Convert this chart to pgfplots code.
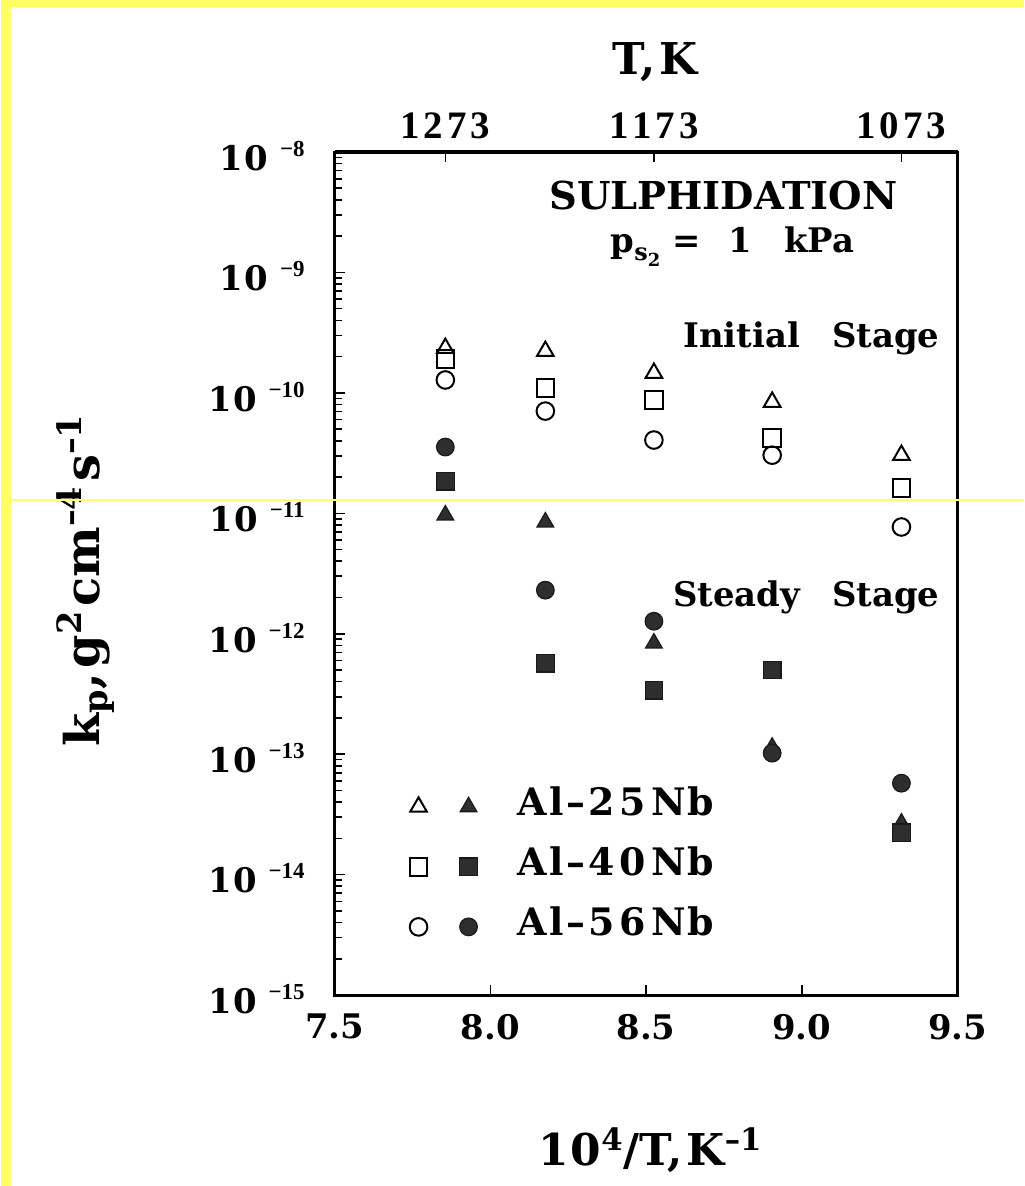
\documentclass[border=0pt]{standalone}
\usepackage{pgfplots}
\pgfplotsset{compat=1.18}
\usepackage{fontspec}
\setmainfont{DejaVu Serif}
\newfontfamily\numfont{Liberation Serif}
\definecolor{scanyellow}{RGB}{255,255,102}
\newcommand\tl[1]{{\bfseries 1\kern0.5bp 0\kern6bp\raisebox{7bp}{\numfont\bfseries\fontsize{11.5}{12}\selectfont −#1}}}
\pgfplotstableread{
x        tri       sq        circ
7.8555   2.35e-10  1.91e-10  1.28e-10
8.1766   2.22e-10  1.10e-10  7.06e-11
8.5251   1.46e-10  8.7e-11   4.06e-11
8.9047   8.4e-11   4.2e-11   3.04e-11
9.3197   3.04e-11  1.62e-11  7.7e-12
}\initial
\pgfplotstableread{
x        tri       sq        circ
7.8555   9.66e-12  1.85e-11  3.55e-11
8.1766   8.45e-12  5.7e-13   2.30e-12
8.5251   8.35e-13  3.4e-13   1.27e-12
8.9047   1.14e-13  4.99e-13  1.02e-13
9.3197   2.67e-14  2.22e-14  5.74e-14
}\steady
\begin{document}
\begin{tikzpicture}
\fill[white] (-167bp,-95.5bp) rectangle (344.5bp,497.5bp);
\fill[scanyellow] (-167bp,-95.5bp) rectangle (-162bp,497.5bp);
\fill[scanyellow] (-167bp,494bp) rectangle (344.5bp,497.5bp);
\begin{axis}[
  at={(0bp,0bp)}, anchor=south west,
  scale only axis, width=311.5bp, height=421.5bp,
  clip=false,
  xmin=7.5, xmax=9.5, ymode=log, ymin=1e-15, ymax=1e-8,
  axis line style={line width=1.5bp, black},
  tick style={line width=0.8bp, black},
  tick align=inside, major tick length=5bp, minor tick length=3.5bp,
  xtick pos=left, ytick pos=left,
  xtick={7.5,8,8.5,9,9.5},
  xticklabels={7.5,8.0,8.5,9.0,9.5},
  xticklabel style={font=\bfseries\fontsize{17}{19}\selectfont, yshift=-6bp},
  ytick={1e-15,1e-14,1e-13,1e-12,1e-11,1e-10,1e-9,1e-8},
  yticklabels={\tl{15},\tl{14},\tl{13},\tl{12},\tl{11},\tl{10},\tl{9},\tl{8}},
  yticklabel style={font=\bfseries\fontsize{17}{19}\selectfont, xshift=-11.5bp, yshift=-2bp},
  legend style={draw=none, fill=none, at={(axis description cs:0.12,0.152)}, anchor=west,
    inner sep=0pt, row sep=17.5bp, font=\bfseries\fontsize{19}{21}\selectfont,
    nodes={inner sep=0pt, text height=10.5bp, text depth=2bp}},
  legend cell align=left,
]
% initial stage (open symbols)
\addplot[only marks, mark=triangle, mark size=4.8bp, mark options={draw=black, fill=white, line width=1bp}, forget plot] table[x=x, y=tri] {\initial};
\addplot[only marks, mark=square, mark size=4.4bp, mark options={draw=black, fill=white, line width=1bp}, forget plot] table[x=x, y=sq] {\initial};
\addplot[only marks, mark=o, mark size=4.4bp, mark options={draw=black, fill=white, line width=1bp}, forget plot] table[x=x, y=circ] {\initial};
% steady stage (filled symbols)
\addplot[only marks, mark=triangle*, mark size=4.8bp, mark options={draw=black!90, fill=black!82, line width=0.6bp}, forget plot] table[x=x, y=tri] {\steady};
\addplot[only marks, mark=square*, mark size=4.4bp, mark options={draw=black!90, fill=black!82, line width=0.6bp}, forget plot] table[x=x, y=sq] {\steady};
\addplot[only marks, mark=*, mark size=4.4bp, mark options={draw=black!90, fill=black!82, line width=0.6bp}, forget plot] table[x=x, y=circ] {\steady};
% legend
\addlegendimage{legend image code/.code={
  \draw[black, line width=1bp, mark=triangle, mark size=4.8bp, mark options={fill=white}] plot coordinates {(0bp,0bp)};
  \draw[black!90, line width=0.6bp, mark=triangle*, mark size=4.8bp, mark options={fill=black!82}] plot coordinates {(25bp,0bp)};
  \path (49.5bp,0bp);}}
\addlegendentry{A\kern1bp l\kern1.5bp –\kern1.5bp 2\kern2.5bp 5\kern2.5bp N\kern1bp b}
\addlegendimage{legend image code/.code={
  \draw[black, line width=1bp, mark=square, mark size=4.4bp, mark options={fill=white}] plot coordinates {(0bp,0bp)};
  \draw[black!90, line width=0.6bp, mark=square*, mark size=4.4bp, mark options={fill=black!82}] plot coordinates {(25bp,0bp)};
  \path (49.5bp,0bp);}}
\addlegendentry{A\kern1bp l\kern1.5bp –\kern1.5bp 4\kern2.5bp 0\kern2.5bp N\kern1bp b}
\addlegendimage{legend image code/.code={
  \draw[black, line width=1bp, mark=o, mark size=4.4bp, mark options={fill=white}] plot coordinates {(0bp,0bp)};
  \draw[black!90, line width=0.6bp, mark=*, mark size=4.4bp, mark options={fill=black!82}] plot coordinates {(25bp,0bp)};
  \path (49.5bp,0bp);}}
\addlegendentry{A\kern1bp l\kern1.5bp –\kern1.5bp 5\kern2.5bp 6\kern2.5bp N\kern1bp b}
% annotations
\node[font=\bfseries\fontsize{19.3}{21}\selectfont] at (rel axis cs:0.624,0.948) {SULPHIDATION};
\node[anchor=west, font=\bfseries\fontsize{17}{19}\selectfont] at (rel axis cs:0.432,0.888)
  {p\raisebox{-4bp}{\fontsize{12}{12}\selectfont s\raisebox{-3bp}{\fontsize{9}{9}\selectfont 2}}\kern6bp=\kern14bp 1\kern16bp kPa};
\node[anchor=east, font=\bfseries\fontsize{17}{19}\selectfont] at (rel axis cs:0.982,0.779) {Initial\kern16bp Stage};
\node[anchor=east, font=\bfseries\fontsize{17}{19}\selectfont] at (rel axis cs:0.982,0.472) {Steady\kern16bp Stage};
% axis labels
\node[font=\bfseries\fontsize{22}{24}\selectfont] at (rel axis cs:0.507,0) [yshift=-77.5bp]
  {1\kern1bp 0\textsuperscript{4}/T,\kern2bp K\textsuperscript{--1}};
\node[font=\bfseries\fontsize{24}{26}\selectfont, rotate=90] at (rel axis cs:-0.400,0.492)
  {k\textsubscript{p},\kern2bp g\textsuperscript{2}\kern2bp cm\textsuperscript{--4}\kern2bp s\textsuperscript{--1}};
\node[font=\bfseries\fontsize{22}{24}\selectfont] at (rel axis cs:0.515,1) [yshift=45bp] {T,\kern2bp K};
\end{axis}
\begin{axis}[
  at={(0bp,0bp)}, anchor=south west,
  scale only axis, width=311.5bp, height=421.5bp,
  xmin=7.5, xmax=9.5, ymin=0, ymax=1,
  axis x line*=top, axis y line=none,
  axis line style={line width=1.5bp, black},
  tick style={line width=0.8bp, black},
  tick align=inside, major tick length=5bp,
  xtick={7.8555,8.5251,9.3197},
  xticklabels={1\kern2bp 2\kern2bp 7\kern2bp 3, 1\kern2bp 1\kern2bp 7\kern2bp 3, 1\kern2bp 0\kern2bp 7\kern2bp 3},
  xticklabel style={font=\numfont\bfseries\fontsize{19.5}{20}\selectfont, yshift=3bp},
]
\end{axis}
\draw[scanyellow, line width=0.6bp] (-167bp,247.5bp) -- (344.5bp,247.5bp);
\end{tikzpicture}
\end{document}
